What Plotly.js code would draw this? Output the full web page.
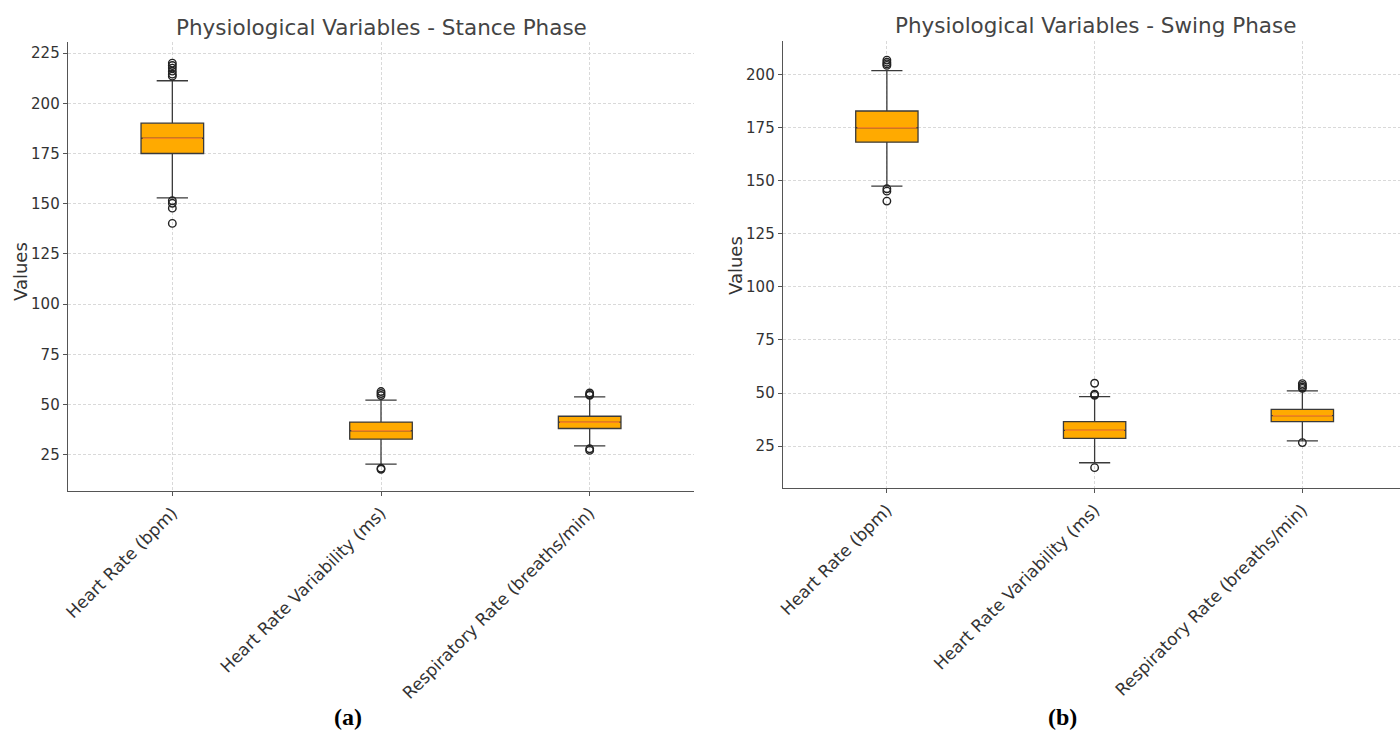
<!DOCTYPE html>
<html>
<head>
<meta charset="utf-8">
<script src="https://cdn.plot.ly/plotly-3.0.1.min.js"></script>
<style>html,body{margin:0;padding:0;background:#fff;}#chart{width:1400px;height:731px;}</style>
</head>
<body>
<div id="chart"></div>
<script>
const categories = ['Heart Rate (bpm)', 'Heart Rate Variability (ms)', 'Respiratory Rate (breaths/min)'];

// Stance phase statistics
const stanceQ1 = [175.0, 32.8, 38.1];
const stanceMedian = [182.6, 37.0, 41.3];
const stanceQ3 = [190.1, 41.3, 44.2];
const stanceLower = [152.9, 20.4, 29.5];
const stanceUpper = [211.2, 52.2, 53.9];
const stanceOutliers = [
  [220.0, 218.8, 217.5, 216.0, 214.5, 213.5, 151.5, 150.2, 147.8, 140.2],
  [56.5, 55.5, 54.5, 18.3, 17.8],
  [55.8, 55.0, 54.6, 28.0, 27.2]
];

// Swing phase statistics
const swingQ1 = [168.3, 28.6, 36.5];
const swingMedian = [175.1, 32.4, 39.3];
const swingQ3 = [183.0, 36.5, 42.3];
const swingLower = [147.6, 17.1, 27.4];
const swingUpper = [202.0, 48.3, 51.0];
const swingOutliers = [
  [207.0, 206.0, 205.2, 204.5, 146.3, 145.2, 140.5],
  [54.6, 49.4, 48.9, 14.8],
  [54.4, 53.6, 52.8, 52.2, 26.6]
];

const titles = ['Physiological Variables - Stance Phase', 'Physiological Variables - Swing Phase'];
const panelLabels = ['(a)', '(b)'];

function makeTraces(q1, med, q3, lo, hi, outl, xa, ya) {
  const box = {
    type: 'box', x: categories, q1: q1, median: med, q3: q3,
    lowerfence: lo, upperfence: hi, boxpoints: false,
    fillcolor: '#FFAA00', line: {color: '#3a3a3a', width: 1.3},
    width: 0.3, whiskerwidth: 0.5, xaxis: xa, yaxis: ya, showlegend: false, hoverinfo: 'skip'
  };
  const medianLine = {
    type: 'box', x: categories, q1: med, median: med, q3: med,
    lowerfence: med, upperfence: med, boxpoints: false,
    fillcolor: 'rgba(0,0,0,0)', line: {color: '#F5821F', width: 1.6},
    width: 0.285, whiskerwidth: 0, xaxis: xa, yaxis: ya, showlegend: false, hoverinfo: 'skip'
  };
  const ox = [], oy = [];
  outl.forEach((arr, i) => arr.forEach(v => { ox.push(categories[i]); oy.push(v); }));
  const pts = {
    type: 'scatter', mode: 'markers', x: ox, y: oy, xaxis: xa, yaxis: ya, showlegend: false,
    marker: {symbol: 'circle-open', size: 7.5, color: '#222', line: {width: 1.4, color: '#222'}}
  };
  return [box, medianLine, pts];
}

const data = [].concat(
  makeTraces(stanceQ1, stanceMedian, stanceQ3, stanceLower, stanceUpper, stanceOutliers, 'x', 'y'),
  makeTraces(swingQ1, swingMedian, swingQ3, swingLower, swingUpper, swingOutliers, 'x2', 'y2')
);

function xax(domain, range, anchor) {
  return {
    domain: domain, range: range, anchor: anchor, type: 'category',
    showline: true, linecolor: '#555', linewidth: 1.3, mirror: false,
    ticks: 'outside', ticklen: 4, tickcolor: '#555', tickangle: -45,
    showgrid: true, gridcolor: '#d9d9d9', griddash: '3px,2px', gridwidth: 1,
    tickfont: {family: 'DejaVu Sans', size: 17, color: '#333'}, zeroline: false
  };
}
function yax(domain, range, anchor) {
  return {
    domain: domain, range: range, anchor: anchor,
    showline: true, linecolor: '#555', linewidth: 1.3, mirror: false,
    ticks: 'outside', ticklen: 4, tickcolor: '#555', dtick: 25, tick0: 0,
    showgrid: true, gridcolor: '#d9d9d9', griddash: '3px,2px', gridwidth: 1,
    tickfont: {family: 'DejaVu Sans', size: 15, color: '#333'}, zeroline: false
  };
}

const layout = {
  width: 1400, height: 731,
  margin: {l: 0, r: 0, t: 0, b: 0},
  paper_bgcolor: '#fff', plot_bgcolor: '#fff',
  boxmode: 'overlay', showlegend: false,
  xaxis: xax([68/1400, 694/1400], [-0.5, 2.5], 'y'),
  yaxis: yax([1 - 491/731, 1 - 42/731], [7, 230.5], 'x'),
  xaxis2: xax([783/1400, 1], [-0.5, 2.47], 'y2'),
  yaxis2: yax([1 - 488/731, 1 - 41/731], [5.2, 216], 'x2'),
  annotations: [
    {text: titles[0], xref: 'paper', yref: 'paper', x: 381/1400, y: 1 - 27/731, xanchor: 'center', yanchor: 'middle', showarrow: false, font: {family: 'DejaVu Sans', size: 21.5, color: '#444'}},
    {text: titles[1], xref: 'paper', yref: 'paper', x: 1095/1400, y: 1 - 26/731, xanchor: 'center', yanchor: 'middle', showarrow: false, font: {family: 'DejaVu Sans', size: 21.5, color: '#444'}},
    {text: 'Values', xref: 'paper', yref: 'paper', x: 20/1400, y: 1 - 272/731, xanchor: 'center', yanchor: 'middle', textangle: -90, showarrow: false, font: {family: 'DejaVu Sans', size: 18, color: '#333'}},
    {text: 'Values', xref: 'paper', yref: 'paper', x: 735/1400, y: 1 - 266/731, xanchor: 'center', yanchor: 'middle', textangle: -90, showarrow: false, font: {family: 'DejaVu Sans', size: 18, color: '#333'}},
    {text: '<b>' + panelLabels[0] + '</b>', xref: 'paper', yref: 'paper', x: 348/1400, y: 1 - 717/731, xanchor: 'center', yanchor: 'middle', showarrow: false, font: {family: 'Liberation Serif', size: 24, color: '#000'}},
    {text: '<b>' + panelLabels[1] + '</b>', xref: 'paper', yref: 'paper', x: 1062/1400, y: 1 - 717/731, xanchor: 'center', yanchor: 'middle', showarrow: false, font: {family: 'Liberation Serif', size: 24, color: '#000'}}
  ]
};

Plotly.newPlot('chart', data, layout, {staticPlot: true});
</script>
</body>
</html>
